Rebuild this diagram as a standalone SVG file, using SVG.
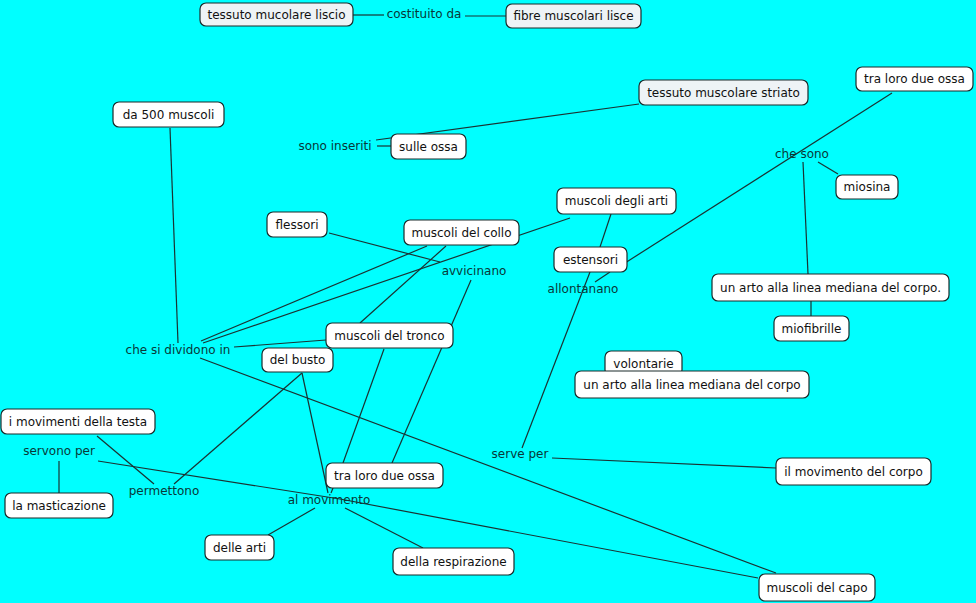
<svg xmlns="http://www.w3.org/2000/svg" width="976" height="603" viewBox="0 0 976 603">
<style>
.bg{fill:#00ffff}
.n rect{fill:#ffffff;stroke:#1a2a2a;stroke-width:1.2}
.n.l rect{fill:#eef3f6}
.n text{font-family:"DejaVu Sans",Verdana,sans-serif;font-size:12px;fill:#111;text-anchor:middle;dominant-baseline:central}
.lp{font-family:"DejaVu Sans",Verdana,sans-serif;font-size:12px;fill:#083838;text-anchor:middle;dominant-baseline:central}
#edges line,#edges polyline{stroke:#1a3333;stroke-width:1.2;fill:none}
</style>
<rect class="bg" x="0" y="0" width="976" height="603"/>
<g id="edges">
<line x1="353" y1="15" x2="384" y2="15"/>
<line x1="465" y1="16" x2="506" y2="16"/>
<line x1="170" y1="128" x2="178" y2="343"/>
<line x1="376" y1="140" x2="639" y2="104"/>
<line x1="377" y1="146" x2="391" y2="146"/>
<line x1="892" y1="93" x2="625" y2="263"/>
<line x1="803" y1="162" x2="808" y2="274"/>
<line x1="818" y1="162" x2="838" y2="174"/>
<line x1="811" y1="301" x2="811" y2="316"/>
<line x1="329" y1="233" x2="440" y2="262"/>
<line x1="427" y1="246" x2="201" y2="341"/>
<line x1="570" y1="218" x2="203" y2="343"/>
<line x1="446" y1="246" x2="360" y2="323"/>
<line x1="326" y1="340" x2="234" y2="347"/>
<line x1="200" y1="358" x2="776" y2="573"/>
<line x1="384" y1="349" x2="343" y2="463"/>
<line x1="471" y1="280" x2="392" y2="463"/>
<line x1="611" y1="214" x2="600" y2="247"/>
<line x1="610" y1="272" x2="595" y2="282"/>
<line x1="590" y1="272" x2="522" y2="448"/>
<line x1="552" y1="458" x2="776" y2="468"/>
<line x1="302" y1="373" x2="174" y2="484"/>
<line x1="302" y1="373" x2="328" y2="493"/>
<line x1="333" y1="488" x2="331" y2="493"/>
<line x1="97" y1="436" x2="154" y2="484"/>
<line x1="59" y1="461" x2="59" y2="493"/>
<polyline points="98,461 340,499 758,578"/>
<line x1="315" y1="508" x2="268" y2="535"/>
<line x1="345" y1="508" x2="423" y2="548"/>
</g>
<g id="linking">
<text class="lp" x="424" y="14">costituito da</text>
<text class="lp" x="335" y="146">sono inseriti</text>
<text class="lp" x="802" y="154">che sono</text>
<text class="lp" x="474" y="271">avvicinano</text>
<text class="lp" x="583" y="289">allontanano</text>
<text class="lp" x="178" y="350">che si dividono in</text>
<text class="lp" x="59" y="451">servono per</text>
<text class="lp" x="164" y="491">permettono</text>
<text class="lp" x="520" y="454">serve per</text>
<text class="lp" x="329" y="500">al movimento</text>
</g>
<g id="n1" class="n l"><rect x="200" y="3" width="153" height="23" rx="6"/><text x="276.5" y="14.5">tessuto mucolare liscio</text></g>
<g id="n2" class="n l"><rect x="506" y="4" width="135" height="24" rx="6"/><text x="573.5" y="16">fibre muscolari lisce</text></g>
<g id="n3" class="n"><rect x="113" y="102" width="111" height="25" rx="6"/><text x="168.5" y="114.5">da 500 muscoli</text></g>
<g id="n4" class="n"><rect x="391" y="134" width="75" height="25" rx="6"/><text x="428.5" y="146.5">sulle ossa</text></g>
<g id="n5" class="n l"><rect x="639" y="80" width="169" height="25" rx="6"/><text x="723.5" y="92.5">tessuto muscolare striato</text></g>
<g id="n6" class="n"><rect x="856" y="67" width="117" height="24" rx="6"/><text x="914.5" y="79">tra loro due ossa</text></g>
<g id="n7" class="n"><rect x="836" y="175" width="62" height="24" rx="6"/><text x="867" y="187">miosina</text></g>
<g id="n8" class="n"><rect x="267" y="212" width="60" height="25" rx="6"/><text x="297" y="224.5">flessori</text></g>
<g id="n9" class="n"><rect x="404" y="220" width="115" height="25" rx="6"/><text x="461.5" y="232.5">muscoli del collo</text></g>
<g id="n10" class="n"><rect x="557" y="188" width="119" height="26" rx="6"/><text x="616.5" y="201">muscoli degli arti</text></g>
<g id="n11" class="n"><rect x="554" y="247" width="73" height="25" rx="6"/><text x="590.5" y="259.5">estensori</text></g>
<g id="n12" class="n"><rect x="712" y="274" width="237" height="27" rx="6"/><text x="830.5" y="287.5">un arto alla linea mediana del corpo.</text></g>
<g id="n13" class="n"><rect x="774" y="316" width="75" height="25" rx="6"/><text x="811.5" y="328.5">miofibrille</text></g>
<g id="n14" class="n"><rect x="326" y="323" width="127" height="25" rx="6"/><text x="389.5" y="335.5">muscoli del tronco</text></g>
<g id="n15" class="n"><rect x="262" y="348" width="71" height="24" rx="6"/><text x="297.5" y="360">del busto</text></g>
<g id="n16" class="n"><rect x="605" y="351" width="77" height="25" rx="6"/><text x="643.5" y="363.5">volontarie</text></g>
<g id="n17" class="n"><rect x="575" y="371" width="234" height="27" rx="6"/><text x="692" y="384.5">un arto alla linea mediana del corpo</text></g>
<g id="n18" class="n"><rect x="1" y="409" width="154" height="25" rx="6"/><text x="78" y="421.5">i movimenti della testa</text></g>
<g id="n19" class="n"><rect x="5" y="493" width="108" height="25" rx="6"/><text x="59" y="505.5">la masticazione</text></g>
<g id="n20" class="n"><rect x="776" y="458" width="155" height="27" rx="6"/><text x="853.5" y="471.5">il movimento del corpo</text></g>
<g id="n21" class="n"><rect x="326" y="463" width="117" height="25" rx="6"/><text x="384.5" y="475.5">tra loro due ossa</text></g>
<g id="n22" class="n"><rect x="205" y="535" width="69" height="25" rx="6"/><text x="239.5" y="547.5">delle arti</text></g>
<g id="n23" class="n"><rect x="393" y="548" width="121" height="27" rx="6"/><text x="453.5" y="561.5">della respirazione</text></g>
<g id="n24" class="n"><rect x="759" y="574" width="116" height="27" rx="6"/><text x="817" y="587.5">muscoli del capo</text></g>
</svg>
